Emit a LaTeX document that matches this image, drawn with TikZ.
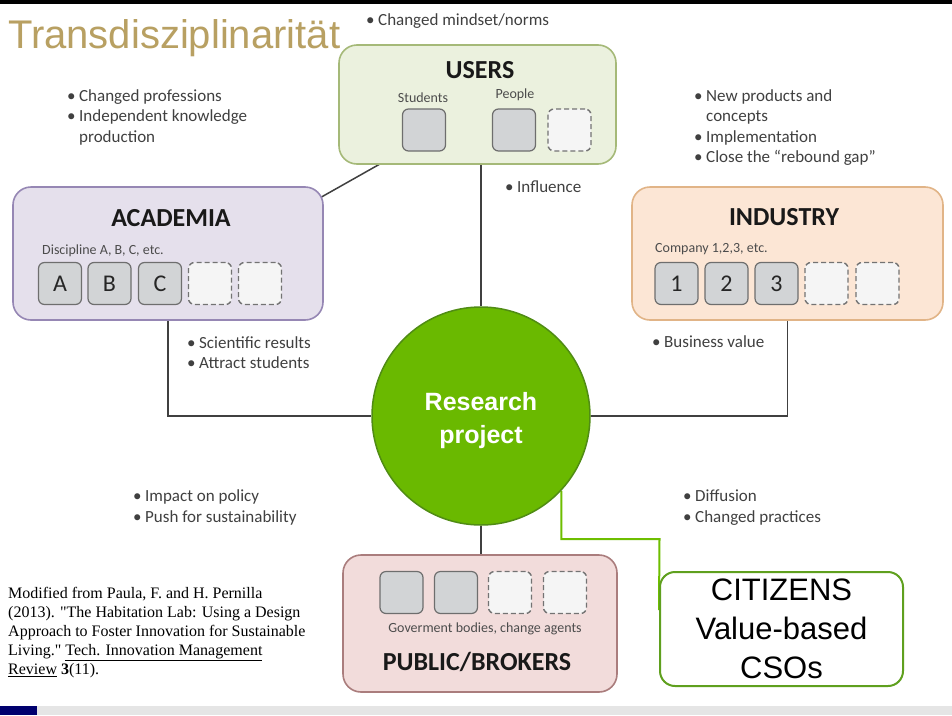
\documentclass[tikz,border=0pt]{standalone}
\usepackage{fontspec}
\setmainfont{Liberation Sans}
\newfontfamily\calfont{Carlito}
\newfontfamily\serfont{Liberation Serif}
\usetikzlibrary{backgrounds}

\definecolor{titlegold}{RGB}{184,160,98}
\definecolor{usersfill}{RGB}{235,241,222}
\definecolor{usersdraw}{RGB}{165,185,120}
\definecolor{acadfill}{RGB}{229,224,236}
\definecolor{acaddraw}{RGB}{150,135,180}
\definecolor{indfill}{RGB}{252,230,213}
\definecolor{inddraw}{RGB}{225,180,135}
\definecolor{pubfill}{RGB}{242,220,219}
\definecolor{pubdraw}{RGB}{170,125,125}
\definecolor{rpfill}{RGB}{106,185,0}
\definecolor{rpdraw}{RGB}{80,140,20}
\definecolor{citline}{RGB}{110,190,0}
\definecolor{citdraw}{RGB}{95,160,30}
\definecolor{bultext}{RGB}{64,64,64}
\definecolor{sqfill}{RGB}{210,212,214}
\definecolor{sqdraw}{RGB}{110,110,110}
\definecolor{navybar}{RGB}{0,0,110}
\definecolor{footgray}{RGB}{229,229,229}

\newcommand{\bl}{\makebox[12pt][l]{\textbullet}}
\newcommand{\cont}{\hspace*{12pt}}

\tikzset{
  group/.style={draw, line width=1.6pt, rounded corners=18pt, inner sep=0pt},
  sq/.style={draw=sqdraw, fill=sqfill, line width=1.2pt, rounded corners=6pt,
    minimum width=43pt, minimum height=42pt, inner sep=0pt,
    font=\calfont\fontsize{24}{24}\selectfont, text=black!85},
  dsq/.style={sq, draw=black!55, fill=black!4, line width=1.4pt, dash pattern=on 5pt off 3pt},
  bullets/.style={anchor=west, align=left, inner sep=0pt, text=bultext,
    font=\calfont\fontsize{17}{20.5}\selectfont},
  grouptitle/.style={font=\calfont\bfseries\fontsize{26}{26}\selectfont,
    text=black!90, inner sep=0pt},
  small/.style={font=\calfont\fontsize{14}{14}\selectfont, text=black!70, inner sep=0pt},
  link/.style={draw=black!75, line width=1.5pt},
  greenlink/.style={draw=citline, line width=2pt},
}

\begin{document}
\begin{tikzpicture}[x=1pt,y=-1pt]
\useasboundingbox (0,0) rectangle (952,715);
\begin{scope}[on background layer]
  \fill[white] (0,0) rectangle (952,715);
\end{scope}

% top rule and footer bar
\fill[black] (0,0) rectangle (952,3.5);
\fill[footgray] (37,706) rectangle (952,715);
\fill[navybar] (0,706) rectangle (37,715);

% title
\node[anchor=base west, inner sep=0pt, text=titlegold,
  font=\fontsize{40}{40}\selectfont] (title) at (8,48) {Transdisziplinarität};

% USERS
\node[group, draw=usersdraw, fill=usersfill, minimum width=277pt, minimum height=119pt]
  (users) at (477.5,104.5) {};
\node[grouptitle] (userst) at (480,70) {USERS};
\node[small] (studl) at (423,98) {Students};
\node[small] (peopl) at (515,95) {People};
\node[sq] (stud) at (424,130) {};
\node[sq] (peop) at (514,130) {};
\node[dsq] (udash) at (569.5,130) {};

% ACADEMIA
\node[group, draw=acaddraw, fill=acadfill, minimum width=310pt, minimum height=133pt]
  (acad) at (168,253.5) {};
\node[grouptitle] (acadt) at (171,218) {ACADEMIA};
\node[small, anchor=west] (discl) at (42,251) {Discipline A, B, C, etc.};
\node[sq] (sqa) at (60,283.5) {A};
\node[sq] (sqb) at (109.5,283.5) {B};
\node[sq] (sqc) at (160,283.5) {C};
\node[dsq] (ad1) at (210,283.5) {};
\node[dsq] (ad2) at (260,283.5) {};

% INDUSTRY
\node[group, draw=inddraw, fill=indfill, minimum width=311pt, minimum height=133pt]
  (ind) at (787.5,253.5) {};
\node[grouptitle] (indt) at (784,217) {INDUSTRY};
\node[small, anchor=west] (compl) at (655,249) {Company 1,2,3, etc.};
\node[sq] (sq1) at (676.5,283.5) {1};
\node[sq] (sq2) at (726.5,283.5) {2};
\node[sq] (sq3) at (776.5,283.5) {3};
\node[dsq] (id1) at (826.5,283.5) {};
\node[dsq] (id2) at (877.5,283.5) {};

% PUBLIC/BROKERS
\node[group, draw=pubdraw, fill=pubfill, minimum width=274pt, minimum height=137pt]
  (pub) at (480,623.5) {};
\node[sq] (pg1) at (401.5,592.5) {};
\node[sq] (pg2) at (456,592.5) {};
\node[dsq] (pd1) at (510,592.5) {};
\node[dsq] (pd2) at (565,592.5) {};
\node[small] (publ) at (485,629) {Goverment bodies, change agents};
\node[grouptitle] (pubt) at (477,662) {PUBLIC/BROKERS};

% research project
\node[circle, draw=rpdraw, fill=rpfill, line width=1.5pt, minimum size=218pt,
  inner sep=0pt] (rp) at (481,416) {};
\node[inner sep=0pt, text=white, align=center,
  font=\bfseries\fontsize{25}{33}\selectfont] (rptext) at ([yshift=-5pt]rp.center)
  {Research\\project};

% citizens
\node[draw=citdraw, fill=white, line width=2pt, rounded corners=15pt,
  minimum width=243pt, minimum height=114pt, inner sep=0pt, align=center,
  font=\fontsize{31}{39}\selectfont] (cit) at (781.5,629) {CITIZENS\\Value-based\\CSOs};

% connectors, kept behind the boxes
\coordinate (gcorner) at (659.5,539);
\begin{scope}[on background layer]
  \draw[link] (rp.north) -- (rp.north |- users.south);
  \draw[link] (stud.south west) -- ([xshift=-8pt,yshift=-14pt]acad.north east);
  \draw[link] (acad.south) |- (rp.west);
  \draw[link] (ind.south) |- (rp.east);
  \draw[link] (rp.south) -- (rp.south |- pub.north);
  \draw[greenlink] (rp.-43.5) |- (gcorner) -- ([yshift=19pt]cit.west);
\end{scope}

% bullet texts
\node[bullets] (b-mind) at (366,21) {\bl Changed mindset/norms};
\node[bullets] (b-prof) at (67,117) {\bl Changed professions\\\bl Independent knowledge\\\cont production};
\node[bullets] (b-prod) at (694,127.5) {\bl New products and\\\cont concepts\\\bl Implementation\\\bl Close the “rebound gap”};
\node[bullets] (b-infl) at (505,187) {\bl Influence};
\node[bullets] (b-sci) at (187,352.5) {\bl Scientific results\\\bl Attract students};
\node[bullets] (b-bus) at (652,342) {\bl Business value};
\node[bullets] (b-pol) at (133,507.5) {\bl Impact on policy\\\bl Push for sustainability};
\node[bullets] (b-dif) at (683,507.5) {\bl Diffusion\\\bl Changed practices};

% reference
\node[anchor=north west, align=left, inner sep=0pt,
  font=\serfont\fontsize{16}{19}\selectfont] (cite) at (8,587)
  {Modified from Paula, F. and H. Pernilla\\
   (2013). "The Habitation Lab: Using a Design\\
   Approach to Foster Innovation for Sustainable\\
   Living." \underline{Tech. Innovation Management}\\
   \underline{Review} \textbf{3}(11).};
\end{tikzpicture}
\end{document}
